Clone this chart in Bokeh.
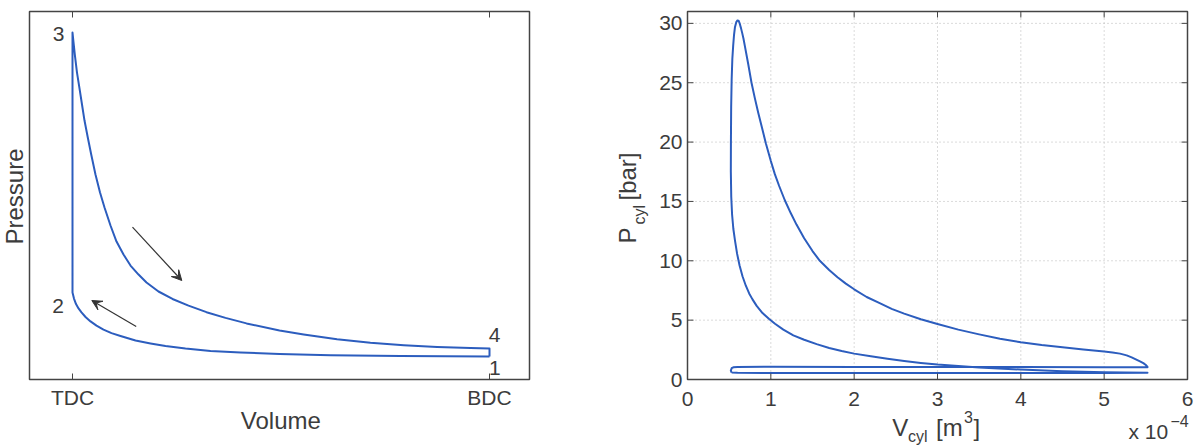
from bokeh.plotting import figure
from bokeh.layouts import row
from bokeh.models import Range1d, Label, Arrow, VeeHead
from bokeh.core.properties import value
from bokeh.embed import file_html
from bokeh.resources import INLINE
import math

# ---------------- Left panel: ideal Otto cycle (arbitrary units, TDC = 1, BDC = 10)
ideal_tick_values = [1, 10]
ideal_tick_labels = ["TDC", "BDC"]
# 1 -> 2 compression
ideal_comp_v = [10.0, 8.08, 6.569, 5.468, 4.626, 3.979, 3.439, 3.007, 2.684, 2.36, 2.036, 1.842, 1.669,
                1.518, 1.389, 1.281, 1.194, 1.13, 1.076, 1.032, 1.0]
ideal_comp_p = [1.045, 1.07, 1.10, 1.16, 1.23, 1.30, 1.41, 1.52, 1.64, 1.77, 1.98, 2.11, 2.27,
                2.45, 2.64, 2.84, 3.05, 3.23, 3.43, 3.68, 3.955]
# 3 -> 4 expansion
ideal_exp_v = [1.0, 1.022, 1.05, 1.097, 1.151, 1.205, 1.259, 1.33, 1.404, 1.496, 1.594, 1.691, 1.82, 1.95,
               2.101, 2.252, 2.425, 2.597, 2.856, 3.158, 3.504, 3.892, 4.302, 4.756, 5.468, 5.99, 6.71,
               7.43, 8.15, 8.87, 9.59, 10.0]
ideal_exp_p = [15.77, 15.32, 14.77, 13.95, 13.23, 12.5, 11.77, 11.0, 10.23, 9.32, 8.5, 7.82, 7.0, 6.27,
               5.68, 5.18, 4.77, 4.41, 4.0, 3.66, 3.36, 3.06, 2.80, 2.55, 2.23, 2.05, 1.83,
               1.67, 1.56, 1.48, 1.43, 1.41]
state_labels = ["1", "2", "3", "4"]

# ---------------- Right panel: measured cycle (volume in 1e-4 m^3, pressure in bar)
x_ticks = [0, 1, 2, 3, 4, 5, 6]
y_ticks = [0, 5, 10, 15, 20, 25, 30]
intake_v = [0.53, 0.6, 1.0, 2.0, 3.0, 4.0, 5.0, 5.52]
intake_p = [0.58, 0.56, 0.55, 0.55, 0.55, 0.55, 0.55, 0.56]
comp_v = [5.52, 5.25, 5.0, 4.5, 4.0, 3.5, 3.0, 2.8, 2.6, 2.4, 2.2, 2.0, 1.85, 1.7, 1.55, 1.4, 1.27, 1.15,
          1.05, 0.98, 0.9, 0.83, 0.78, 0.74, 0.7, 0.66, 0.625, 0.595, 0.57, 0.55, 0.535, 0.525, 0.52,
          0.521, 0.524, 0.53, 0.538, 0.548, 0.558, 0.57, 0.585, 0.6]
comp_p = [0.56, 0.585, 0.62, 0.70, 0.84, 1.02, 1.26, 1.39, 1.55, 1.74, 1.95, 2.18, 2.40, 2.66, 2.98, 3.35,
          3.72, 4.2, 4.7, 5.1, 5.6, 6.2, 6.75, 7.25, 7.9, 8.7, 9.6, 10.6, 11.7, 12.7, 13.9, 15.4, 17.5,
          20.0, 23.0, 25.3, 27.0, 28.1, 29.0, 29.7, 30.1, 30.25]
exp_v = [0.6, 0.615, 0.628, 0.642, 0.656, 0.672, 0.688, 0.728, 0.768, 0.808, 0.848, 0.894, 0.94, 1.0,
         1.048, 1.1, 1.168, 1.24, 1.308, 1.4, 1.5, 1.588, 1.7, 1.8, 1.9, 2.0, 2.15, 2.3, 2.45, 2.6, 2.8,
         3.0, 3.25, 3.5, 3.75, 4.0, 4.25, 4.5, 4.75, 5.0, 5.1, 5.19, 5.27, 5.33, 5.38, 5.43, 5.47, 5.5, 5.52]
exp_p = [30.25, 30.2, 29.95, 29.6, 29.2, 28.7, 28.1, 26.6, 25.0, 23.7, 22.5, 21.2, 19.9, 18.4,
         17.3, 16.3, 15.1, 14.0, 13.05, 11.9, 10.82, 10.0, 9.22, 8.62, 8.08, 7.6, 6.95, 6.45, 5.95, 5.55, 5.08,
         4.68, 4.2, 3.8, 3.44, 3.14, 2.91, 2.72, 2.53, 2.36, 2.28, 2.18, 2.03, 1.86, 1.70, 1.53, 1.38, 1.22, 1.06]
exhaust_v = [5.52, 5.0, 4.0, 3.0, 2.0, 1.0, 0.6, 0.55, 0.53, 0.52, 0.53]
exhaust_p = [1.04, 1.04, 1.05, 1.06, 1.06, 1.07, 1.06, 1.03, 0.95, 0.75, 0.58]

FONT = "Liberation Sans"
TEXT = "#3c3c3c"
AXIS = "#444444"
BLUE = "#2c5dbe"
TICK_PX = "21px"
LABEL_PX = "24px"
SMALL_PX = "16px"
H = 446


class Panel:
    """A figure whose frame fills the canvas; the axes box sits inside it."""

    def __init__(self, width, left, right, top, bottom, bx0, bx1, by0, by1, x0_abs):
        self.left, self.top, self.x0_abs = left, top, x0_abs
        self.bx0, self.bx1, self.by0, self.by1 = bx0, bx1, by0, by1
        self.sx = (width - left - right) / (bx1 - bx0)
        self.sy = (H - top - bottom) / (by1 - by0)
        self.box_bottom_px = H - bottom
        self.p = figure(width=width, height=H, frame_width=width, frame_height=H, min_border=0,
                        x_range=Range1d(bx0 - left / self.sx, bx1 + right / self.sx),
                        y_range=Range1d(by0 - bottom / self.sy, by1 + top / self.sy),
                        x_axis_location=None, y_axis_location=None,
                        output_backend="svg", toolbar_location=None,
                        background_fill_color="white", border_fill_color="white")
        self.p.grid.visible = False
        self.p.outline_line_color = None

    # absolute page pixel -> data
    def X(self, px):
        return self.bx0 + (px - self.x0_abs - self.left) / self.sx

    def Y(self, py):
        return self.by0 + (self.box_bottom_px - py) / self.sy

    def label(self, px, py, text, size, angle=0.0, align="left"):
        # (px, py): text start / centre, vertically at the middle of the glyphs
        self.p.add_layout(Label(x=self.X(px), y=self.Y(py), text=text, text_font=FONT,
                                text_font_size=size, text_color=TEXT, text_align=align,
                                text_baseline="middle", angle=angle, angle_units="rad"))

    def box(self):
        self.p.quad(left=[self.bx0], right=[self.bx1], bottom=[self.by0], top=[self.by1],
                    fill_color=None, line_color=AXIS, line_width=1.5)

    def xticks(self, ticks, length=6):
        n = len(ticks)
        d = length / self.sy
        self.p.segment(x0=ticks, x1=ticks, y0=[self.by0] * n, y1=[self.by0 + d] * n,
                       line_color=AXIS, line_width=1)
        self.p.segment(x0=ticks, x1=ticks, y0=[self.by1] * n, y1=[self.by1 - d] * n,
                       line_color=AXIS, line_width=1)

    def yticks(self, ticks, length=6):
        n = len(ticks)
        d = length / self.sx
        self.p.segment(y0=ticks, y1=ticks, x0=[self.bx0] * n, x1=[self.bx0 + d] * n,
                       line_color=AXIS, line_width=1)
        self.p.segment(y0=ticks, y1=ticks, x0=[self.bx1] * n, x1=[self.bx1 - d] * n,
                       line_color=AXIS, line_width=1)


# ======================= Left figure
L = Panel(600, 29, 71, 11, 67, 1 - 43 / (417 / 9), 10 + 40 / (417 / 9), 0, 368 / 22, 0)
p1 = L.p
cyc_v = ideal_comp_v + ideal_exp_v + [ideal_comp_v[0]]
cyc_p = ideal_comp_p + ideal_exp_p + [ideal_comp_p[0]]
p1.line(cyc_v, cyc_p, line_color=BLUE, line_width=2, line_join="round")
L.box()
L.xticks(ideal_tick_values)
p1.text(x=ideal_tick_values, y=[L.Y(397)] * len(ideal_tick_values), text=ideal_tick_labels,
        text_font=value(FONT), text_font_size=value(TICK_PX), text_color=TEXT,
        text_align="center", text_baseline="middle")

# state numbers
L.label(488.5, 367.5, state_labels[0], TICK_PX)
L.label(51.7, 305.7, state_labels[1], TICK_PX)
L.label(52.3, 33.2, state_labels[2], TICK_PX)
L.label(488.3, 334.2, state_labels[3], TICK_PX)

# arrows
for (xs, ys, xe, ye) in [(132.0, 226.7, 181.3, 280.0), (135.7, 326.0, 91.3, 300.0)]:
    p1.add_layout(Arrow(end=VeeHead(size=10, fill_color="#333333", line_color="#333333", line_width=1),
                        x_start=L.X(xs), y_start=L.Y(ys), x_end=L.X(xe), y_end=L.Y(ye),
                        line_color="#333333", line_width=1.2))

# axis titles
L.label(280.3, 420.0, "Volume", LABEL_PX, align="center")
L.label(13.5, 196, "Pressure", LABEL_PX, angle=math.pi / 2, align="center")

# ======================= Right figure
R = Panel(599, 87, 12, 11, 67, 0, 6, 0, 31, 600)
p2 = R.p
inner_x = x_ticks[1:-1]
inner_y = y_ticks[1:]
p2.segment(x0=inner_x, x1=inner_x, y0=[R.by0] * len(inner_x), y1=[R.by1] * len(inner_x),
           line_color="#b5b5b5", line_dash="1 3", line_width=1)
p2.segment(y0=inner_y, y1=inner_y, x0=[R.bx0] * len(inner_y), x1=[R.bx1] * len(inner_y),
           line_color="#b5b5b5", line_dash="1 3", line_width=1)

loop_v = intake_v + comp_v + exp_v + exhaust_v
loop_p = intake_p + comp_p + exp_p + exhaust_p
p2.line(loop_v, loop_p, line_color=BLUE, line_width=2, line_join="round")
R.box()
R.xticks(x_ticks)
R.yticks(y_ticks)
p2.text(x=x_ticks, y=[R.Y(398.3)] * len(x_ticks), text=[str(t) for t in x_ticks],
        text_font=value(FONT), text_font_size=value(TICK_PX), text_color=TEXT,
        text_align="center", text_baseline="middle")
p2.text(x=[R.X(682)] * len(y_ticks), y=y_ticks, text=[str(t) for t in y_ticks],
        text_font=value(FONT), text_font_size=value(TICK_PX), text_color=TEXT,
        text_align="right", text_baseline="middle")

# x label V_cyl [m^3]
R.label(891.7, 426.5, "V", LABEL_PX)
R.label(907.5, 436.0, "cyl", SMALL_PX)
R.label(935.5, 426.5, "[m", LABEL_PX)
R.label(963.5, 416.5, "3", SMALL_PX)
R.label(973.0, 426.5, "]", LABEL_PX)
# y label P_cyl [bar]
R.label(626.7, 243.0, "P", LABEL_PX, angle=math.pi / 2)
R.label(639.3, 224.0, "cyl", SMALL_PX, angle=math.pi / 2)
R.label(626.7, 200.0, "[bar]", LABEL_PX, angle=math.pi / 2)
# exponent x 10^-4
R.label(1128.0, 430.8, "x 10", TICK_PX)
R.label(1170.0, 420.8, "\u22124", SMALL_PX)

layout = row(p1, p2)
open("out.html", "w").write(file_html(layout, INLINE))
